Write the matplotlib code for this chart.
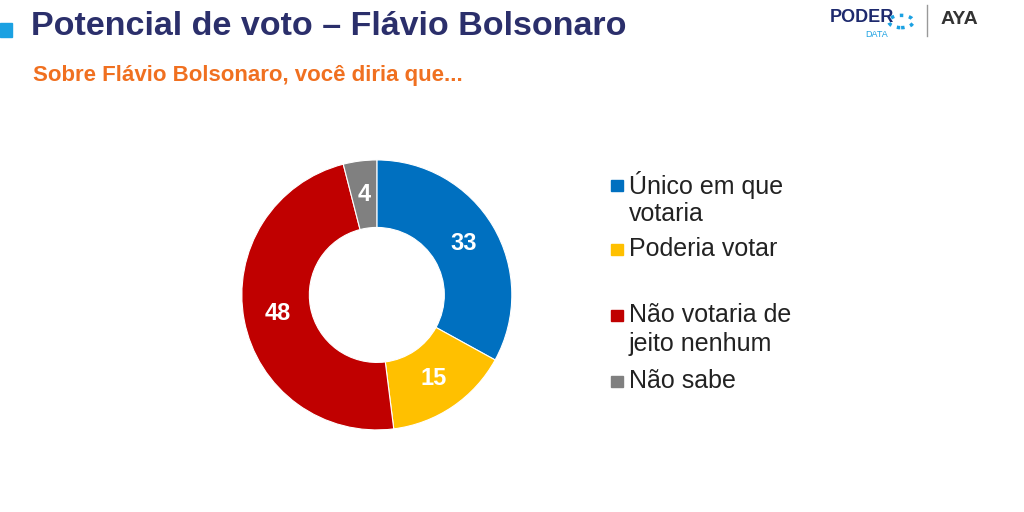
import matplotlib
matplotlib.use("Agg")
import matplotlib.pyplot as plt
from matplotlib.patches import Rectangle, Circle

plt.rcParams['font.family'] = ['Liberation Sans', 'DejaVu Sans']

labels = ["Único em que\nvotaria", "Poderia votar", "Não votaria de\njeito nenhum", "Não sabe"]
values = [33, 15, 48, 4]
colors = ["#0070C0", "#FFC000", "#C00000", "#808080"]

fig = plt.figure(figsize=(10.24, 5.12), dpi=100)
fig.patch.set_facecolor("white")

ax = fig.add_axes([0.368 - 0.132, 0.424 - 0.2637, 0.264, 0.5273])
wedges, texts = ax.pie(values, colors=colors, startangle=90, counterclock=False,
                       wedgeprops=dict(width=0.5, edgecolor="white", linewidth=0.8),
                       labels=[str(v) for v in values], labeldistance=0.75,
                       textprops=dict(color="white", fontsize=17, fontweight="bold", ha="center", va="center"))
ax.set_xlim(-1, 1)
ax.set_ylim(-1, 1)
ax.set_aspect("equal")

# title
fig.patches.append(Rectangle((0.0, 0.928), 0.012, 0.028, transform=fig.transFigure, color="#1BA1E2"))
fig.text(0.03, 0.948, "Potencial de voto – Flávio Bolsonaro", fontsize=24.5, fontweight="bold",
         color="#2B2F6B", va="center")
fig.text(0.032, 0.853, "Sobre Flávio Bolsonaro, você diria que...", fontsize=16, fontweight="bold",
         color="#F07020", va="center")

# logo
fig.text(0.81, 0.965, "PODER", fontsize=13, fontweight="bold", color="#1E2A6E", va="center")
fig.text(0.845, 0.932, "DATA", fontsize=6.5, color="#1BA1E2", va="center")
fig.patches.append(Circle((0.88, 0.958), 0.012, transform=fig.transFigure, fill=False,
                          edgecolor="#1BA1E2", linewidth=2.5, linestyle=":"))
fig.add_artist(plt.Line2D([0.905, 0.905], [0.93, 0.99], transform=fig.transFigure, color="#999999", lw=1))
fig.text(0.918, 0.962, "AYA", fontsize=14, fontweight="bold", color="#333333", va="center")

# legend (first-line centre y in pixels from top)
ys_px = [185, 249, 315, 381]
for lab, c, ypx in zip(labels, colors, ys_px):
    y = 1 - ypx / 512
    fig.patches.append(Rectangle((0.597, y - 0.012), 0.011, 0.022, transform=fig.transFigure, color=c))
    lines = lab.split("\n")
    for i, ln in enumerate(lines):
        fig.text(0.614, y - i * 29 / 512, ln, fontsize=18, color="#222222", va="center")

fig.savefig("out.png", dpi=100, facecolor="white")
